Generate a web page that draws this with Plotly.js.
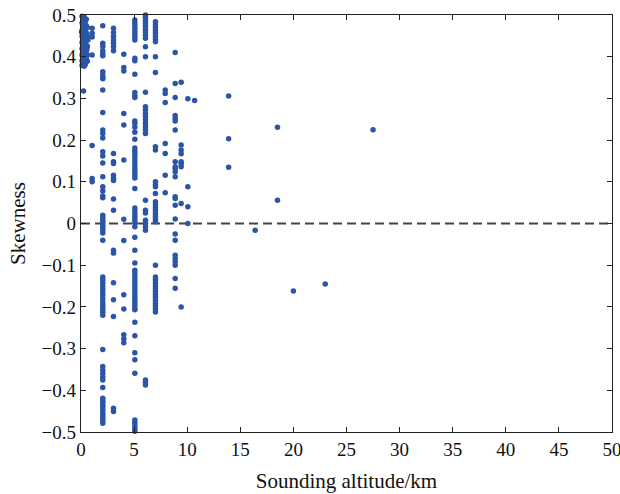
<!DOCTYPE html>
<html>
<head>
<meta charset="utf-8">
<script src="https://cdn.plot.ly/plotly-3.0.1.min.js"></script>
<style>html,body{margin:0;padding:0;background:#fff;}#chart{width:620px;height:494px;}</style>
</head>
<body>
<div id="chart"></div>
<script>
// Near-surface cluster (altitude ~0-0.6 km)
const surfAlt = [0.1,0.3,0.5,0.2,0.4,0.1,0.3,0.5,0.6,0.2,0.4,0.1,0.3,0.5,0.2,0.4,0.6,0.1,0.3,0.5,0.2,0.4,0.1,0.3,0.5,0.6,0.2,0.4,0.1,0.3,0.5,0.2,0.4,0.1,0.3,0.5,0.2,0.4,0.6,0.1,0.3,0.2,0.4,0.1,0.3,0.2,0.4,0.15,0.35,0.25,0.45,0.05,0.24,0.55,0.65,0.6,0.55,0.15,0.35];
const surfSkew = [0.497,0.495,0.49,0.488,0.484,0.481,0.478,0.474,0.47,0.471,0.466,0.463,0.46,0.457,0.455,0.452,0.448,0.449,0.445,0.442,0.44,0.437,0.434,0.431,0.428,0.425,0.426,0.422,0.419,0.416,0.413,0.41,0.407,0.404,0.401,0.398,0.395,0.392,0.389,0.39,0.386,0.383,0.381,0.379,0.377,0.387,0.396,0.409,0.42,0.433,0.446,0.459,0.318,0.418,0.44,0.404,0.455,0.468,0.392];

// Columns of soundings at fixed altitudes (km)
const colAlt = [1.05, 2.05, 3.06, 4.03, 5.07, 6.07, 7.01, 7.93, 8.87, 9.43, 10.06, 10.7];
const colSkew = [
  [0.468,0.456,0.447,0.404,0.187,0.108,0.1],
  [0.474,0.432,0.425,0.415,0.408,0.402,0.364,0.356,0.35,0.347,0.32,0.266,0.224,0.216,0.205,0.172,0.162,0.145,0.112,0.088,0.078,0.066,0.062,
   0.02,0.014,0.008,0.002,-0.004,-0.01,-0.016,-0.023,-0.04,
   -0.128,-0.135,-0.142,-0.15,-0.157,-0.164,-0.172,-0.18,-0.188,-0.195,-0.2,-0.207,-0.213,-0.22,
   -0.302,-0.343,-0.352,-0.36,-0.368,-0.375,-0.393,
   -0.419,-0.425,-0.43,-0.436,-0.442,-0.448,-0.455,-0.461,-0.467,-0.473,-0.479],
  [0.468,0.458,0.449,0.44,0.432,0.424,0.414,0.168,0.148,0.144,0.116,0.108,0.103,0.059,0.032,-0.064,-0.071,-0.142,-0.183,-0.223,-0.443,-0.451],
  [0.406,0.374,0.366,0.264,0.236,0.152,0.01,-0.041,-0.171,-0.205,-0.267,-0.277,-0.286],
  [0.488,0.481,0.474,0.467,0.46,0.453,0.447,0.44,0.396,0.39,0.358,0.314,0.307,0.302,0.246,0.24,0.231,0.219,0.202,
   0.181,0.174,0.167,0.16,0.152,0.145,0.138,0.13,0.123,0.116,0.109,0.084,
   0.037,0.03,0.023,0.016,0.009,0.002,-0.008,-0.033,-0.064,-0.095,
   -0.112,-0.119,-0.126,-0.133,-0.14,-0.147,-0.154,-0.161,-0.168,-0.175,-0.182,-0.189,-0.196,-0.203,-0.207,
   -0.237,-0.269,-0.31,-0.327,-0.359,-0.471,-0.478,-0.485,-0.492,-0.498],
  [0.5,0.494,0.487,0.48,0.473,0.466,0.459,0.452,0.444,0.424,0.4,0.315,0.28,0.272,0.264,0.256,0.248,0.24,0.232,0.224,0.216,
   0.056,0.032,0.025,0.008,0.0,-0.008,-0.016,-0.375,-0.381,-0.387],
  [0.484,0.477,0.47,0.463,0.456,0.449,0.442,0.436,0.4,0.362,0.184,0.176,0.1,0.094,0.088,0.072,
   0.052,0.045,0.038,0.031,0.024,0.017,0.01,0.004,-0.1,
   -0.128,-0.135,-0.142,-0.149,-0.156,-0.163,-0.17,-0.177,-0.184,-0.191,-0.198,-0.205,-0.212],
  [0.32,0.312,0.29,0.192,0.168,0.116,0.074],
  [0.41,0.336,0.302,0.259,0.252,0.246,0.224,0.148,0.136,0.132,0.124,0.112,0.064,0.06,0.044,0.011,-0.025,-0.04,-0.076,-0.084,-0.092,-0.1,-0.132,-0.155],
  [0.339,0.188,0.176,0.167,0.148,0.143,0.136,0.048,-0.2],
  [0.299,0.088,0.04,0.0],
  [0.295]
];

// Isolated high-altitude soundings
const highAlt  = [13.9, 13.9, 13.9, 16.4, 18.5, 18.5, 20.0, 23.0, 27.5];
const highSkew = [0.306, 0.203, 0.135, -0.016, 0.231, 0.056, -0.162, -0.145, 0.225];

const xTicks = [0,5,10,15,20,25,30,35,40,45,50];
const yTicks = [-0.5,-0.4,-0.3,-0.2,-0.1,0,0.1,0.2,0.3,0.4,0.5];
const yTickText = ['\u22120.5','\u22120.4','\u22120.3','\u22120.2','\u22120.1','0','0.1','0.2','0.3','0.4','0.5'];

const xs = [], ys = [];
surfAlt.forEach((a,i)=>{xs.push(a); ys.push(surfSkew[i]);});
colAlt.forEach((a,i)=>{colSkew[i].forEach(v=>{xs.push(a); ys.push(v);});});
highAlt.forEach((a,i)=>{xs.push(a); ys.push(highSkew[i]);});

const font = {family:'"Liberation Serif", "Times New Roman", serif', color:'#111', size:19};

const trace = {
  x: xs, y: ys, type:'scatter', mode:'markers',
  marker:{color:'#2b55a6', size:5.5, line:{width:0}},
  hoverinfo:'skip', cliponaxis:false
};

const layout = {
  width:620, height:494,
  margin:{l:81, r:8, t:15, b:62},
  paper_bgcolor:'#fff', plot_bgcolor:'#fff',
  font: font,
  showlegend:false,
  xaxis:{
    range:[0,50], tickvals:xTicks, ticktext:xTicks.map(String),
    ticks:'inside', ticklen:5, tickwidth:1, tickcolor:'#222',
    showline:true, linecolor:'#222', linewidth:1.2, mirror:'ticks',
    showgrid:false, zeroline:false, fixedrange:true,
    tickfont:{size:19}, ticklabeloverflow:'allow',
    title:{text:'Sounding altitude/km', font:{size:21}, standoff:14}
  },
  yaxis:{
    range:[-0.5,0.5], tickvals:yTicks, ticktext:yTickText,
    ticks:'inside', ticklen:5, tickwidth:1, tickcolor:'#222',
    showline:true, linecolor:'#222', linewidth:1.2, mirror:'ticks',
    showgrid:false, zeroline:false, fixedrange:true,
    tickfont:{size:19}, ticklabeloverflow:'allow',
    title:{text:'Skewness', font:{size:21}, standoff:10}
  },
  shapes:[{type:'line', xref:'paper', x0:0, x1:1, yref:'y', y0:0, y1:0,
           line:{color:'#444', width:2, dash:'9px,5px'}, layer:'below'}]
};

Plotly.newPlot('chart',[trace],layout,{staticPlot:true, displayModeBar:false});
</script>
</body>
</html>
